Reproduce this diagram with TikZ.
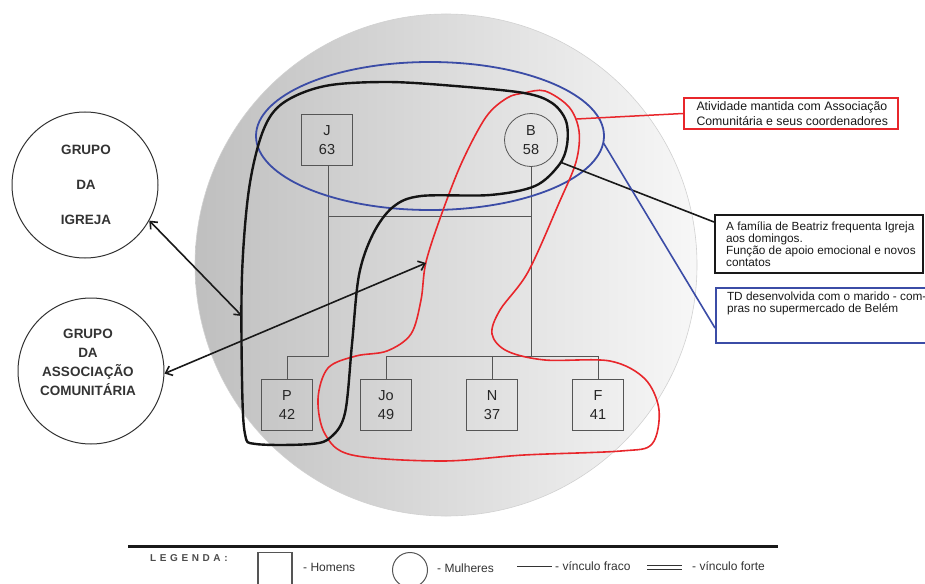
\documentclass[tikz,border=0pt]{standalone}
\usepackage{fontspec}
\setmainfont{Liberation Sans}
\usetikzlibrary{arrows.meta,calc}

\definecolor{ecored}{HTML}{E8262B}
\definecolor{ecoblue}{HTML}{3B4CA6}
\definecolor{kingray}{HTML}{555555}

\begin{document}
\begin{tikzpicture}[x=1pt,y=-1pt,
  man/.style={draw=kingray, line width=1.3pt, minimum size=51pt, inner sep=0pt,
    align=center, font=\fontsize{14.5}{19.5}\selectfont, text=black!85},
  woman/.style={circle, draw=kingray, line width=0.8pt, minimum size=53pt, inner sep=0pt,
    align=center, font=\fontsize{14.5}{19.5}\selectfont, text=black!85},
  kin/.style={draw=kingray, line width=1pt},
  groupcircle/.style={circle, draw=black!80, line width=1pt, minimum size=146pt, inner sep=0pt},
  grouptext/.style={align=center, font=\bfseries\fontsize{13.5}{19}\selectfont, text=black!80},
  link/.style={line width=1.6pt, draw=black!90,
    {Straight Barb[length=6pt,width=10pt]}-{Straight Barb[length=6pt,width=10pt]}},
  loopline/.style={line width=2.4pt, draw=black!92, line join=round},
  noteframe/.style={anchor=north west, inner sep=0pt, fill=white,
    font=\fontsize{11.8}{12}\selectfont, text=black!90},
  legtext/.style={anchor=west, inner sep=0pt, font=\fontsize{12}{13}\selectfont, text=black!80},
]
\useasboundingbox (0,0) rectangle (925,583);

% ecomap background disc
\shade[left color=black!25, right color=black!3] (446,265) circle[radius=251pt];
\draw[black!18, line width=0.6pt] (446,265) circle[radius=251pt];

% family members
\node[man]   (J)  at (327,140) {J\\63};
\node[woman] (B)  at (531,140) {B\\58};
\node[man]   (P)  at (287,405) {P\\42};
\node[man]   (Jo) at (386,405) {Jo\\49};
\node[man]   (N)  at (492,405) {N\\37};
\node[man]   (F)  at (598,405) {F\\41};

% kinship lines
\coordinate (jbend) at (328,356);
\coordinate (mJ) at (328,216);
\coordinate (mB) at (531,216);
\coordinate (kidsB) at (531,356);
\coordinate (kidsL) at (386,356);
\coordinate (kidsR) at (598,356);
\draw[kin] (J.south -| jbend) -- (jbend) -| (P.north);
\draw[kin] (mJ) -- (mB);
\draw[kin] (B.south) -- (kidsB);
\draw[kin] (kidsL) -- (kidsR);
\draw[kin] (kidsL) -- (Jo.north);
\draw[kin] (N.north |- kidsL) -- (N.north);
\draw[kin] (kidsR) -- (F.north);

% blue ring around the couple
\draw[ecoblue, line width=1.8pt] (430,136) ellipse[x radius=174pt, y radius=74pt];
\coordinate (bluept) at (603.5,143);

% red ring: B with Jo, N and F
\draw[ecored, line width=1.6pt] plot[smooth cycle, tension=0.55] coordinates {
  (524,93) (545,91) (569,107) (579,131) (576,162) (559,203) (528,272) (500,310)
  (492,334) (507,351) (545,360) (610,361) (645,379) (659,410) (652,444) (621,451)
  (524,455) (442,461) (352,455) (325,434) (318,399) (328,368) (356,356) (387,351)
  (411,334) (421,300) (426,262) (442,213) (462,162) (486,117) (507,98)};
\coordinate (redpt) at (576.5,119);
\coordinate (redhit) at (426,263);

% black ring: J, B and P
\draw[loopline] plot[smooth cycle, tension=0.55] coordinates {
  (283,103) (325,86) (387,82) (455,86) (524,93) (552,103) (566,121) (567,145)
  (559,165) (535,186) (490,195) (421,196) (393,207) (373,234) (359,275) (352,344)
  (345,413) (331,437) (311,444) (256,444) (245,434) (242,379) (242,275) (249,189)
  (263,131)};
\coordinate (blackpt) at (560,162);
\coordinate (blackhit) at (242,316);

% outside groups
\node[groupcircle] (igreja) at (85,185) {};
\node[grouptext] (igrejatxt) at (86,185) {GRUPO\\[16pt]DA\\[16pt]IGREJA};
\node[groupcircle] (assoc) at (91,371) {};
\node[grouptext] (assoctxt) at (88,362) {GRUPO\\DA\\ASSOCIAÇÃO\\COMUNITÁRIA};

\draw[link] (igreja.-29) -- (blackhit);
\draw[link] (assoc.-2) -- (redhit);

% notes
\node[noteframe, draw=ecored, line width=2pt, minimum width=214pt, minimum height=31pt,
  font=\fontsize{12.3}{15}\selectfont] (actnote) at (683,97)
  {\hspace*{11pt}\parbox{200pt}{Atividade mantida com Associação\\Comunitária e seus coordenadores}};
\node[noteframe, draw=black!90, line width=2.2pt, minimum width=208pt, minimum height=58pt]
  (famnote) at (714,214)
  {\hspace*{10pt}\parbox{196pt}{A família de Beatriz frequenta Igreja\\aos domingos.\\Função de apoio emocional e novos\\contatos}};
\node[noteframe, draw=ecoblue, line width=2pt, minimum width=225pt, minimum height=55pt]
  (tdnote) at (715,287)
  {\hspace*{10pt}\parbox[t][50pt][t]{213pt}{\vspace{1pt}TD desenvolvida com o marido - com-\\pras no supermercado de Belém}};

\draw[ecored, line width=1.5pt] (redpt) -- (actnote.west);
\draw[black!90, line width=1.6pt] (blackpt) -- ($(famnote.north west)+(0,8)$);
\draw[ecoblue, line width=1.6pt] (bluept) -- ($(tdnote.south west)+(0,-16)$);

% legend
\coordinate (legL) at (128,546.5);
\coordinate (legR) at (778,546.5);
\draw[black!90, line width=2.6pt] (legL) -- (legR);
\node[legtext, font=\bfseries\fontsize{10}{12}\selectfont\addfontfeatures{LetterSpace=36}, text=black!70]
  (legtitle) at (150,558) {LEGENDA:};
\node[draw=kingray, line width=1.2pt, minimum size=34pt, inner sep=0pt] (legsq) at (275,569.5) {};
\node[legtext] (legmen) at (303,567) {- Homens};
\node[circle, draw=kingray, line width=1pt, minimum size=35pt, inner sep=0pt] (legci) at (410,570) {};
\node[legtext] (legwomen) at (437,568) {- Mulheres};
\coordinate (weakA) at (517,566);
\coordinate (weakB) at (552,566);
\draw[black!80, line width=1pt] (weakA) -- (weakB);
\node[legtext] (legweak) at (555,566) {- vínculo fraco};
\coordinate (strongA) at (647,565);
\coordinate (strongB) at (682,565);
\draw[black!80, line width=0.9pt] (strongA) -- (strongB);
\draw[black!80, line width=0.9pt] ($(strongA)+(0,4)$) -- ($(strongB)+(0,4)$);
\node[legtext] (legstrong) at (692,566) {- vínculo forte};
\end{tikzpicture}
\end{document}
